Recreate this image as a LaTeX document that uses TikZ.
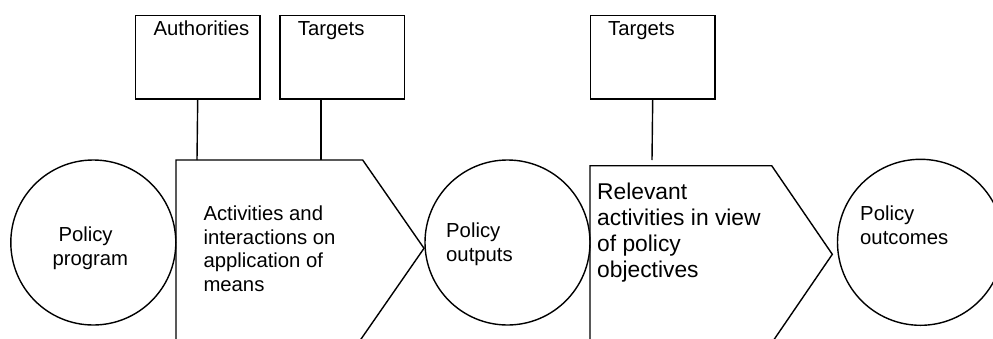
\documentclass[tikz,border=0pt]{standalone}
\usepackage{fontspec}
\setmainfont{Liberation Sans}
\begin{document}
\begin{tikzpicture}[x=1pt,y=-1pt,
  outline/.style={line width=1.4pt, line join=miter},
  boxnode/.style={outline, draw, rectangle, inner sep=0pt, anchor=north west},
  stage/.style={outline, draw, circle, inner sep=0pt},
  % multi-line labels are placed by the baseline of their last line
  txt/.style={inner sep=0pt, anchor=base west, align=left,
    font=\fontsize{20.3}{23.6}\selectfont},
  bigtxt/.style={inner sep=0pt, anchor=base west, align=left,
    font=\fontsize{22.8}{26}\selectfont}]
\useasboundingbox (0,0) rectangle (993,338);

% actor boxes along the top
\node[boxnode, minimum width=124.6pt, minimum height=83.3pt] (auth) at (134.7,15) {};
\node[boxnode, minimum width=124.7pt, minimum height=83.3pt] (tg1) at (279.3,15) {};
\node[boxnode, minimum width=124.6pt, minimum height=83.3pt] (tg2) at (589.7,15) {};
\node[txt] (authlbl) at (153.3,35.3) {Authorities};
\node[txt] (tg1lbl) at (297.7,35.3) {Targets};
\node[txt] (tg2lbl) at (608,35.3) {Targets};

% policy stages (circles)
\node[stage, minimum size=165pt] (prog) at (93.3,242.5) {};
\node[stage, minimum size=165pt] (outp) at (507.5,242.5) {};
\node[stage, minimum size=166pt] (outc) at (920.5,242.3) {};

% process arrows (pentagons, running off the bottom edge)
\coordinate (p1nw) at (176,160);
\coordinate (p1ne) at (362.7,160);
\coordinate (p1tip) at (424,248.3);
\coordinate (p1se) at (356.9,345);
\coordinate (p1sw) at (176,345);
\draw[outline] (p1sw) -- (p1nw) -- (p1ne) -- (p1tip) -- (p1se) -- cycle;

\coordinate (p2nw) at (590,165.7);
\coordinate (p2ne) at (771.7,165.7);
\coordinate (p2tip) at (832.3,254.3);
\coordinate (p2se) at (770.3,345);
\coordinate (p2sw) at (590,345);
\draw[outline] (p2sw) -- (p2nw) -- (p2ne) -- (p2tip) -- (p2se) -- cycle;

% links from the actor boxes down to the processes
\coordinate (c1) at (197,160);
\coordinate (c2) at (321,160);
\coordinate (c3) at (652,160);
\draw[outline] (auth.south) -- (c1);
\draw[outline] (tg1.south -| c2) -- (c2);
\draw[outline] (tg2.south) -- (c3);

% labels
\node[txt] (proglbl) at (52.3,265.4) {\hspace*{6pt}Policy\\program};
\node[txt] (act1) at (203.3,291.5) {Activities and\\interactions on\\application of\\means};
\node[txt] (outplbl) at (446,261.3) {Policy\\outputs};
\node[bigtxt] (act2) at (597,277) {Relevant\\activities in view\\of policy\\objectives};
\node[txt] (outclbl) at (860,244.3) {Policy\\outcomes};
\end{tikzpicture}
\end{document}
